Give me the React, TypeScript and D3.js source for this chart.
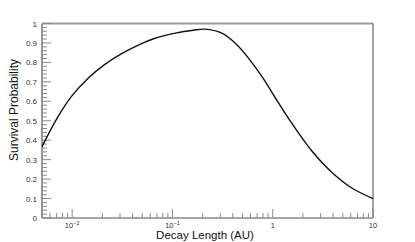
import React from "react";
import * as d3 from "d3";

// curve (decay length in AU, survival probability)
const decayLength = [0.005, 0.0072, 0.0098, 0.0145, 0.0212, 0.0311, 0.0457, 0.067, 0.11, 0.16, 0.212, 0.311, 0.424, 0.575, 0.782, 1.148, 1.56, 2.47, 3.92, 6.21, 10];
const survival = [0.367, 0.52, 0.624, 0.72, 0.79, 0.845, 0.889, 0.924, 0.952, 0.965, 0.971, 0.95, 0.898, 0.821, 0.727, 0.59, 0.485, 0.343, 0.233, 0.153, 0.1];

const yMajorTicks = [0, 0.1, 0.2, 0.3, 0.4, 0.5, 0.6, 0.7, 0.8, 0.9, 1];
const yTickLabels = ["0", "0.1", "0.2", "0.3", "0.4", "0.5", "0.6", "0.7", "0.8", "0.9", "1"];
const xDecades = [0.01, 0.1, 1, 10];
const xTickLabels = [["10", "−2"], ["10", "−1"], ["1", ""], ["10", ""]];

const W = 415;
const H = 242;
const left = 42;
const right = 373;
const top = 23.5;
const bottom = 218;

export default function App() {
  const x = d3.scaleLog().domain([0.005, 10]).range([left, right]);
  const y = d3.scaleLinear().domain([0, 1]).range([bottom, top]);

  const pts: [number, number][] = decayLength.map((d, i) => [d, survival[i]]);
  const line = d3
    .line<[number, number]>()
    .x((d) => x(d[0]))
    .y((d) => y(d[1]))
    .curve(d3.curveCatmullRom.alpha(0.5));

  // minor ticks: 0.02 steps on y, 2..9 per decade on x
  const yMinor = d3.range(0, 51).map((i) => i * 0.02).filter((v) => Math.abs(v * 10 - Math.round(v * 10)) > 1e-6);
  const xMinor: number[] = [];
  [0.001, 0.01, 0.1, 1].forEach((dec) => {
    for (let k = 2; k <= 9; k++) {
      const v = dec * k;
      if (v >= 0.005 && v <= 10) xMinor.push(v);
    }
  });

  const font = "'Liberation Sans', Arial, sans-serif";
  const tickCol = "#8a8a8a";

  return (
    <div style={{ position: "absolute", left: 0, top: 0 }}>
      <svg width={W} height={H} style={{ display: "block", background: "#fff" }}>
        {/* frame */}
        <line x1={left} x2={right} y1={top} y2={top} stroke="#9a9a9a" strokeWidth={2} />
        <line x1={right} x2={right} y1={top} y2={bottom} stroke="#444" strokeWidth={1} />
        <line x1={left} x2={right} y1={bottom} y2={bottom} stroke="#888" strokeWidth={1.5} />
        <line x1={left} x2={left} y1={top} y2={bottom} stroke="#555" strokeWidth={1.2} />

        {/* y ticks */}
        {yMinor.map((v) => (
          <line key={"ym" + v} x1={left} x2={left + 5} y1={y(v)} y2={y(v)} stroke={tickCol} strokeWidth={1} />
        ))}
        {yMajorTicks.map((v, i) => (
          <g key={"y" + v}>
            <line x1={left} x2={left + 9} y1={y(v)} y2={y(v)} stroke={tickCol} strokeWidth={1} />
            <text x={left - 5} y={y(v) + 3} textAnchor="end" fontFamily={font} fontSize={8} fill="#333">
              {yTickLabels[i]}
            </text>
          </g>
        ))}

        {/* x ticks */}
        {xMinor.map((v) => (
          <line key={"xm" + v} x1={x(v)} x2={x(v)} y1={bottom} y2={bottom - 5} stroke={tickCol} strokeWidth={1} />
        ))}
        {xDecades.map((v, i) => (
          <g key={"x" + v}>
            <line x1={x(v)} x2={x(v)} y1={bottom} y2={bottom - 9} stroke={tickCol} strokeWidth={1} />
            <text x={x(v)} y={bottom + 10} textAnchor="middle" fontFamily={font} fontSize={7.5} fill="#333">
              {xTickLabels[i][0]}
              {xTickLabels[i][1] && (
                <tspan dy={-3} fontSize={5.5}>
                  {xTickLabels[i][1]}
                </tspan>
              )}
            </text>
          </g>
        ))}

        {/* curve */}
        <path d={line(pts) || ""} fill="none" stroke="#111" strokeWidth={1.4} />

        {/* axis titles */}
        <text x={205} y={239} textAnchor="middle" fontFamily={font} fontSize={11.5} fill="#111">
          Decay Length (AU)
        </text>
        <text
          transform={`translate(18,110) rotate(-90)`}
          textAnchor="middle"
          fontFamily={font}
          fontSize={12}
          fill="#111"
        >
          Survival Probability
        </text>
      </svg>
    </div>
  );
}
